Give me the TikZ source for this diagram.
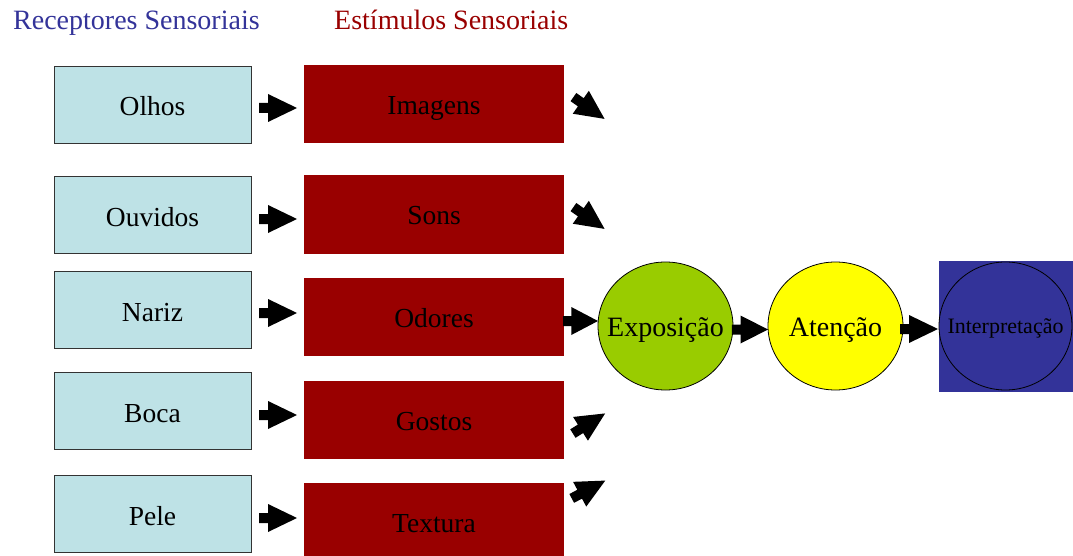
\documentclass[tikz,border=0pt]{standalone}
\usepackage{fontspec}
\setmainfont{Liberation Serif}
\usetikzlibrary{shapes.geometric,calc}
\definecolor{recblue}{RGB}{190,226,230}
\definecolor{titleblue}{RGB}{51,51,153}
\definecolor{darkred}{RGB}{153,0,0}
\definecolor{expgreen}{RGB}{153,204,0}
\definecolor{atyellow}{RGB}{255,255,0}
\tikzset{
  recbox/.style={draw=black!80, line width=0.9pt, fill=recblue, minimum width=197, minimum height=77, inner sep=0, text height=23pt, text depth=0pt, font=\fontsize{27.5}{30}\selectfont},
  stimbox/.style={fill=darkred, minimum width=260, minimum height=78, inner sep=0, text height=21pt, text depth=0pt, font=\fontsize{27.5}{30}\selectfont},
  stage/.style={draw=black, line width=0.8pt, ellipse, minimum width=135, minimum height=128, inner sep=0, text height=21pt, text depth=0pt, font=\fontsize{28}{30}\selectfont},
  titletext/.style={anchor=base west, inner sep=0, font=\fontsize{28}{30}\selectfont},
  barrow/.pic={\fill[black] (-19,-5) -- (-10,-5) -- (-10,-14) -- (19,0) -- (-10,14) -- (-10,5) -- (-19,5) -- cycle;}
}
\begin{document}
\begin{tikzpicture}[x=1pt,y=-1pt]
\useasboundingbox (0,0) rectangle (1073,556);
% titles
\node[titletext, text=titleblue] (t1) at (13,30) {Receptores Sensoriais};
\node[titletext, text=darkred] (t2) at (334,30) {Estímulos Sensoriais};
% receptor boxes
\node[recbox] (olhos) at (152.5,104.5) {Olhos};
\node[recbox] (ouvidos) at (152.5,214.5) {Ouvidos};
\node[recbox] (nariz) at (152.5,309.5) {Nariz};
\node[recbox] (boca) at (152.5,411) {Boca};
\node[recbox] (pele) at (152.5,513.5) {Pele};
% stimulus boxes
\node[stimbox] (imagens) at (434,104) {Imagens};
\node[stimbox] (sons) at (434,214.5) {Sons};
\node[stimbox] (odores) at (434,317) {Odores};
\node[stimbox] (gostos) at (434,420) {Gostos};
\node[stimbox] (textura) at (434,522) {Textura};
% stages
\node[stage, fill=expgreen] (expo) at (665.5,326) {\makebox[0pt]{Exposição}};
\node[stage, fill=atyellow] (aten) at (835.5,326) {\makebox[0pt]{Atenção}};
\node[fill=titleblue, minimum width=134, minimum height=131, inner sep=0] (interpbg) at (1006,326.5) {};
\node[stage, minimum width=133, minimum height=128, text height=14pt, font=\fontsize{22}{24}\selectfont] (interp) at (1005.5,326) {\makebox[0pt]{Interpretação}};
% arrows receptor -> stimulus
\pic at (278,108) {barrow};
\pic at (278,219) {barrow};
\pic at (278,313) {barrow};
\pic at (278,415) {barrow};
\pic at (278,518) {barrow};
% arrows stimulus -> exposure
\pic[rotate=-35] at (589,108) {barrow};
\pic[rotate=-35] at (589,218) {barrow};
\pic[xscale=0.92] at (580.5,321) {barrow};
\pic[rotate=32] at (589,423.5) {barrow};
\pic[rotate=28] at (588.5,489.5) {barrow};
% arrows between stages
\pic[xscale=0.95] at (750,329.5) {barrow};
\pic at (919,329) {barrow};
\end{tikzpicture}
\end{document}
